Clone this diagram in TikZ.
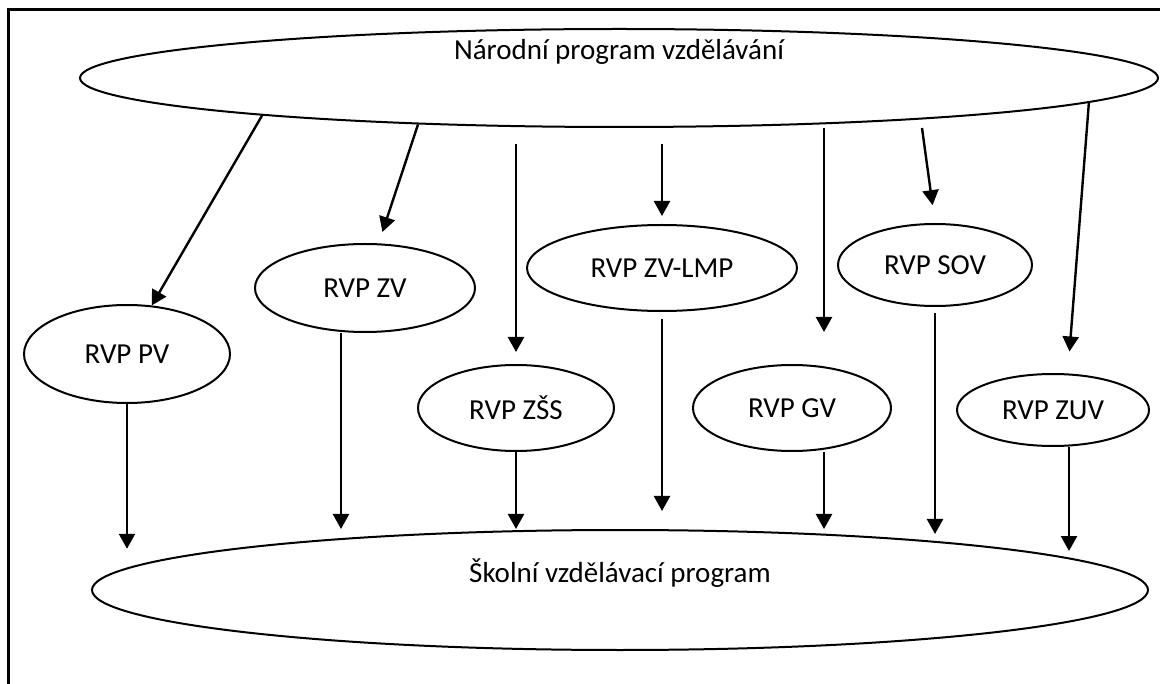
\documentclass[tikz,border=0pt]{standalone}
\usepackage{fontspec}
\setmainfont{Carlito}
\usetikzlibrary{shapes.geometric}
\usetikzlibrary{arrows.meta}

\begin{document}
\begin{tikzpicture}[x=1pt, y=-1pt,
    oval/.style={draw, ellipse, line width=2pt, inner sep=0pt, font=\fontsize{29}{34}\selectfont},
    arr/.style={line width=2.4pt, -{Triangle[length=15pt, width=16pt]}}]
  \useasboundingbox (0,0) rectangle (1160,684);
  \draw[line width=3pt] (8,684) -- (8,10) -- (1160,10);

  \node[oval, minimum width=1078pt, minimum height=98pt,
    label={[font=\fontsize{29}{34}\selectfont, yshift=26pt]center:Národní program vzdělávání}] (nat) at (619,78) {};
  \node[oval, minimum width=1056pt, minimum height=120pt,
    label={[font=\fontsize{29}{34}\selectfont, yshift=17pt]center:Školní vzdělávací program}] (skol) at (620,590) {};

  \node[oval, minimum width=206pt, minimum height=98pt] (pv) at (127,354) {RVP PV};
  \node[oval, minimum width=220pt, minimum height=88pt] (zv) at (365,288) {RVP ZV};
  \node[oval, minimum width=196pt, minimum height=86pt] (zss) at (516,408) {RVP ZŠS};
  \node[oval, minimum width=270pt, minimum height=86pt] (zvlmp) at (662,268) {RVP ZV-LMP};
  \node[oval, minimum width=198pt, minimum height=86pt] (gv) at (792,408) {RVP GV};
  \node[oval, minimum width=194pt, minimum height=82pt] (sov) at (935,265) {RVP SOV};
  \node[oval, minimum width=192pt, minimum height=72pt] (zuv) at (1053,410) {RVP ZUV};

  % from the national programme
  \draw[arr] (nat.186) -- (pv.63);
  \draw[arr, shorten >=12pt] (nat.193) -- (zv.73);
  \draw[arr, shorten <=16pt, shorten >=12pt] (nat.south -| zss.north) -- (zss.north);
  \draw[arr, shorten <=16pt, shorten >=8pt] (nat.south -| zvlmp.north) -- (zvlmp.north);
  \draw[arr, shorten >=32pt] ([xshift=32pt]gv.north |- nat.south) -- ([xshift=32pt]gv.north);
  \draw[arr, shorten >=18pt] ([xshift=-13pt]sov.north |- nat.south) -- (sov.north);
  \draw[arr, shorten >=22pt] (nat.-3) -- (zuv.68);

  % down to the school programme
  \draw[arr, shorten >=16pt] (pv.south) -- (pv.south |- skol.177);
  \draw[arr] ([xshift=-24pt]zv.south) -- ([xshift=-24pt]zv.south |- skol.north);
  \draw[arr] (zss.south) -- (zss.south |- skol.north);
  \draw[arr, shorten <=7pt, shorten >=18pt] (zvlmp.south) -- (zvlmp.south |- skol.north);
  \draw[arr] ([xshift=32pt]gv.south) -- ([xshift=32pt]gv.south |- skol.north);
  \draw[arr, shorten <=6pt] (sov.south) -- ([yshift=-5pt]sov.south |- skol.north);
  \draw[arr] ([xshift=16pt]zuv.south) -- ([xshift=16pt,yshift=-22pt]zuv.south |- skol.north);
\end{tikzpicture}
\end{document}
